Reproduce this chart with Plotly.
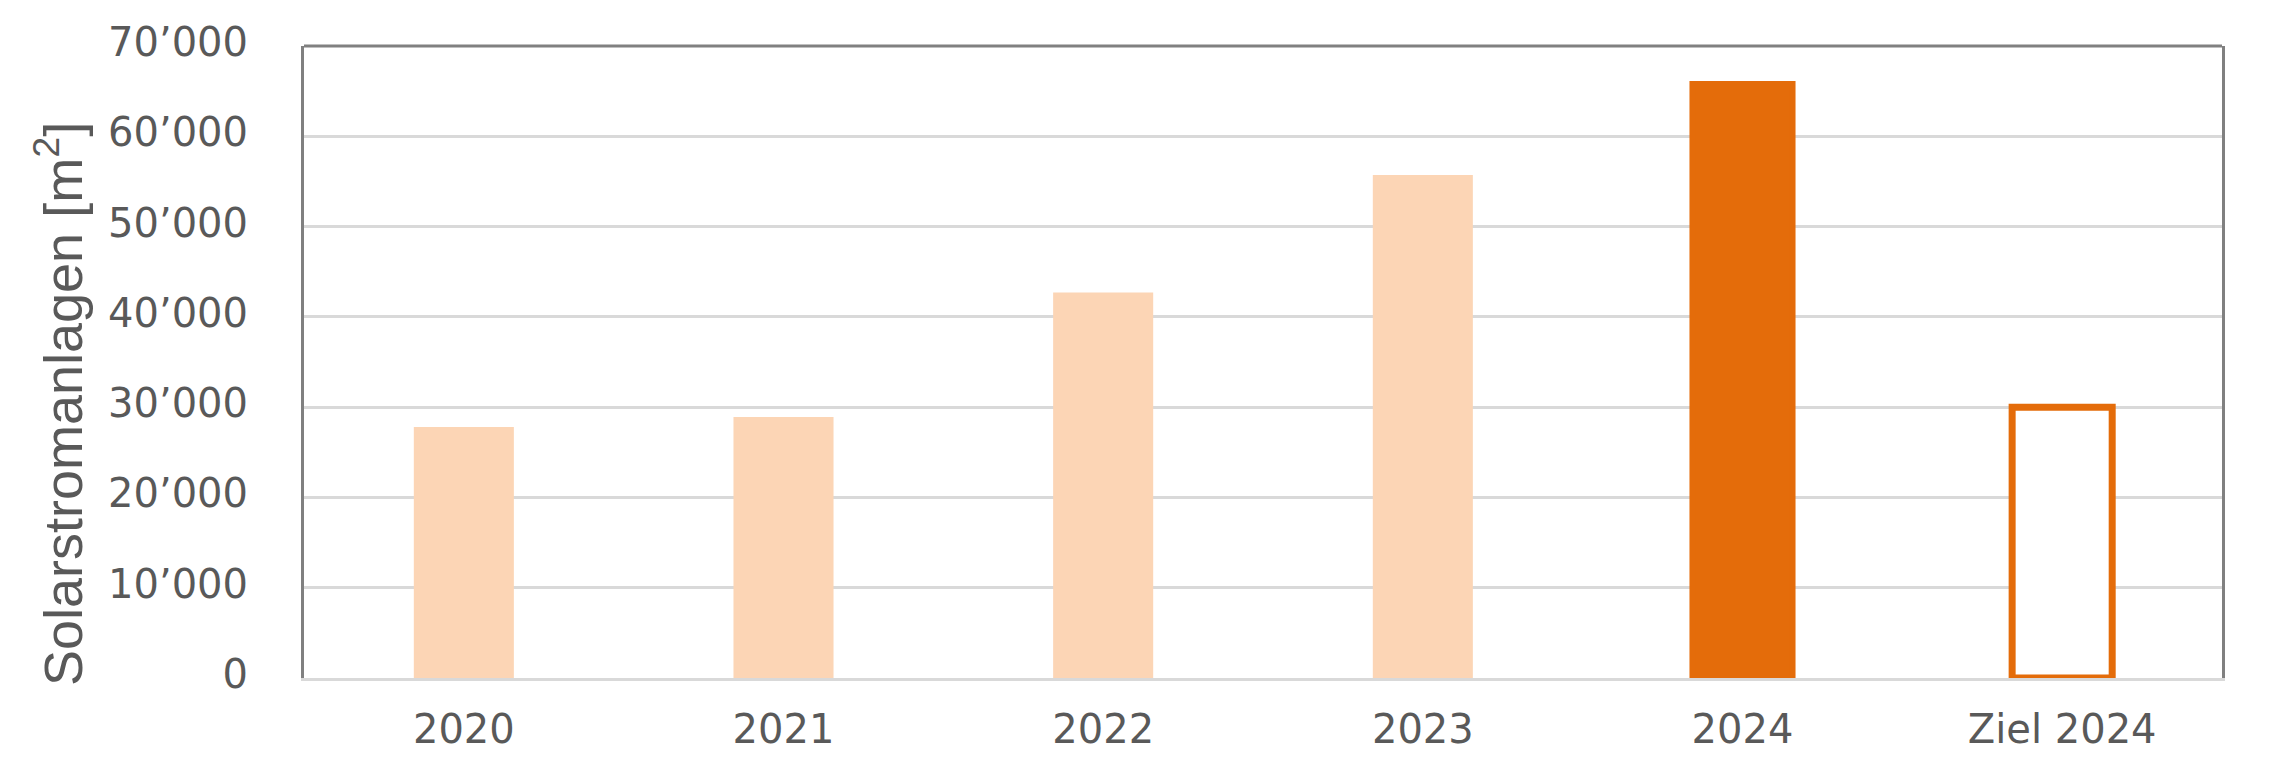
import plotly.graph_objects as go

# Daten
kategorien = ["2020", "2021", "2022", "2023", "2024", "Ziel 2024"]
flaeche_m2 = [27800, 28900, 42700, 55700, 65800, 30000]

farbe_hell = "#FCD5B5"
farbe_dunkel = "#E46C0A"

fuellung = [farbe_hell] * 4 + [farbe_dunkel, "white"]
rand_farbe = [farbe_hell] * 4 + [farbe_dunkel, farbe_dunkel]
rand_breite = [0, 0, 0, 0, 6, 7]

fig = go.Figure(
    go.Bar(
        x=kategorien,
        y=flaeche_m2,
        width=0.313,
        marker=dict(color=fuellung, line=dict(color=rand_farbe, width=rand_breite)),
        hoverinfo="x+y",
    )
)

tick_font = dict(family="Verdana, DejaVu Sans", size=40, color="#595959")

# Seite hat 8px Rand (body), daher Margins um 8px verschoben
fig.update_layout(
    width=2273,
    height=778,
    margin=dict(l=296, r=59, t=38, b=108),
    plot_bgcolor="white",
    paper_bgcolor="white",
    separators=".’",
    showlegend=False,
    xaxis=dict(
        showline=True,
        linecolor="#D9D9D9",
        linewidth=3,
        showgrid=False,
        ticks="",
        tickfont=tick_font,
        ticklabelstandoff=14,
        automargin=False,
    ),
    yaxis=dict(
        range=[0, 70000],
        dtick=10000,
        tickformat=",",
        showline=True,
        linecolor="#808080",
        linewidth=3,
        mirror=True,
        showgrid=True,
        gridcolor="#D9D9D9",
        gridwidth=2.5,
        zeroline=False,
        ticks="",
        tickfont=tick_font,
        ticklabelstandoff=45,
        ticklabelshift=-4,
        automargin=False,
    ),
)

# oberer Rahmen (grau)
fig.add_shape(
    type="line", xref="paper", yref="paper", x0=0, x1=1, y0=1, y1=1,
    line=dict(color="#808080", width=3),
)

# Achsentitel
fig.add_annotation(
    text="Solarstromanlagen [m<sup>2</sup>]",
    xref="paper", yref="paper",
    x=-0.1277, y=0.4335,
    xanchor="center", yanchor="middle",
    textangle=-90,
    showarrow=False,
    font=dict(family="Liberation Sans", size=54, color="#595959"),
)

fig.write_html("out.html")
